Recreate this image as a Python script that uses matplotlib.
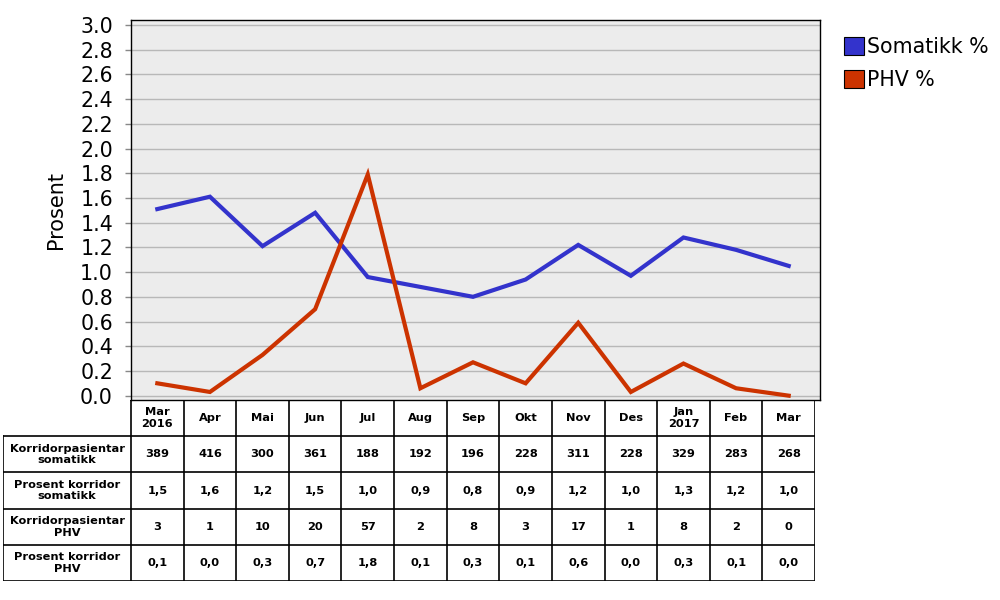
import numpy as np
import matplotlib
matplotlib.use("Agg")
import matplotlib.pyplot as plt
from matplotlib.patches import Patch

plt.rcParams["font.family"] = ["DejaVu Sans"]

MONTHS = ["Mar\n2016", "Apr", "Mai", "Jun", "Jul", "Aug", "Sep", "Okt",
          "Nov", "Des", "Jan\n2017", "Feb", "Mar"]

SOMATIKK_PCT = [1.51, 1.61, 1.21, 1.48, 0.96, 0.88, 0.80, 0.94, 1.22, 0.97, 1.28, 1.18, 1.05]
PHV_PCT = [0.10, 0.03, 0.33, 0.70, 1.79, 0.06, 0.27, 0.10, 0.59, 0.03, 0.26, 0.06, 0.00]

ROW_LABELS = ["Korridorpasientar\nsomatikk", "Prosent korridor\nsomatikk",
              "Korridorpasientar\nPHV", "Prosent korridor\nPHV"]
TABLE_ROWS = [
    ["389", "416", "300", "361", "188", "192", "196", "228", "311", "228", "329", "283", "268"],
    ["1,5", "1,6", "1,2", "1,5", "1,0", "0,9", "0,8", "0,9", "1,2", "1,0", "1,3", "1,2", "1,0"],
    ["3", "1", "10", "20", "57", "2", "8", "3", "17", "1", "8", "2", "0"],
    ["0,1", "0,0", "0,3", "0,7", "1,8", "0,1", "0,3", "0,1", "0,6", "0,0", "0,3", "0,1", "0,0"],
]

BLUE = "#3333cc"
RED = "#cc3300"

W, H = 1000, 600
fig = plt.figure(figsize=(W / 100, H / 100), dpi=100)


def px_axes(x0, y0, x1, y1):
    return fig.add_axes([x0 / W, 1 - y1 / H, (x1 - x0) / W, (y1 - y0) / H])


# main chart
ax = px_axes(131, 20, 820, 400)
ax.set_facecolor("#ececec")
x = np.arange(len(MONTHS))
ax.plot(x, SOMATIKK_PCT, color=BLUE, lw=3.0, solid_joinstyle="miter", zorder=3)
ax.plot(x, PHV_PCT, color=RED, lw=3.0, solid_joinstyle="miter", zorder=3)

col_w = (815 - 131) / 13.0
ax.set_xlim(-0.5, 12.5 + 5 / col_w)
ax.set_ylim(-0.035, 3.04)
ax.set_yticks(np.arange(0, 3.01, 0.2))
ax.set_yticklabels([f"{v:.1f}" for v in np.arange(0, 3.01, 0.2)])
ax.set_xticks([])
ax.tick_params(axis="y", length=4, width=1, color="#888888", pad=9, labelsize=14.8)
ax.yaxis.grid(True, color="#b8b8b8", lw=1)
ax.set_axisbelow(True)
for s in ax.spines.values():
    s.set_color("black")
    s.set_linewidth(1)
ax.set_ylabel("Prosent", fontsize=15, labelpad=10)

handles = [Patch(facecolor=BLUE, edgecolor="black", lw=0.8, label="Somatikk %"),
           Patch(facecolor=RED, edgecolor="black", lw=0.8, label="PHV %")]
fig.legend(handles=handles, loc="upper left", bbox_to_anchor=(844 / W, 1 - 37 / H),
           frameon=False, fontsize=14.8, handlelength=0.98, handleheight=0.98,
           handletextpad=0.12, labelspacing=0.62, borderpad=0, borderaxespad=0)

# table below
label_w = (131 - 3) / col_w
tax = px_axes(3, 400, 815, 581)
tax.set_xlim(-0.5 - label_w, 12.5)
tax.set_ylim(5, 0)
tax.axis("off")

lkw = dict(color="black", lw=1.2, solid_capstyle="projecting")
left = -0.5 - label_w
# horizontal lines
tax.plot([-0.5, 12.5], [0, 0], **lkw)
for r in range(1, 6):
    tax.plot([left, 12.5], [r, r], **lkw)
# vertical lines
tax.plot([left, left], [1, 5], **lkw)
for c in range(14):
    tax.plot([c - 0.5, c - 0.5], [0, 5], **lkw)

tkw = dict(ha="center", va="center", fontsize=8.2, fontweight="bold",
           linespacing=1.2, color="black")
for c, m in enumerate(MONTHS):
    tax.text(c, 0.5, m, **tkw)
for r, (lab, row) in enumerate(zip(ROW_LABELS, TABLE_ROWS)):
    tax.text(left + label_w / 2, r + 1.5, lab, **tkw)
    for c, val in enumerate(row):
        tax.text(c, r + 1.5, val, **tkw)

fig.savefig("out.png", dpi=100, facecolor="white")
